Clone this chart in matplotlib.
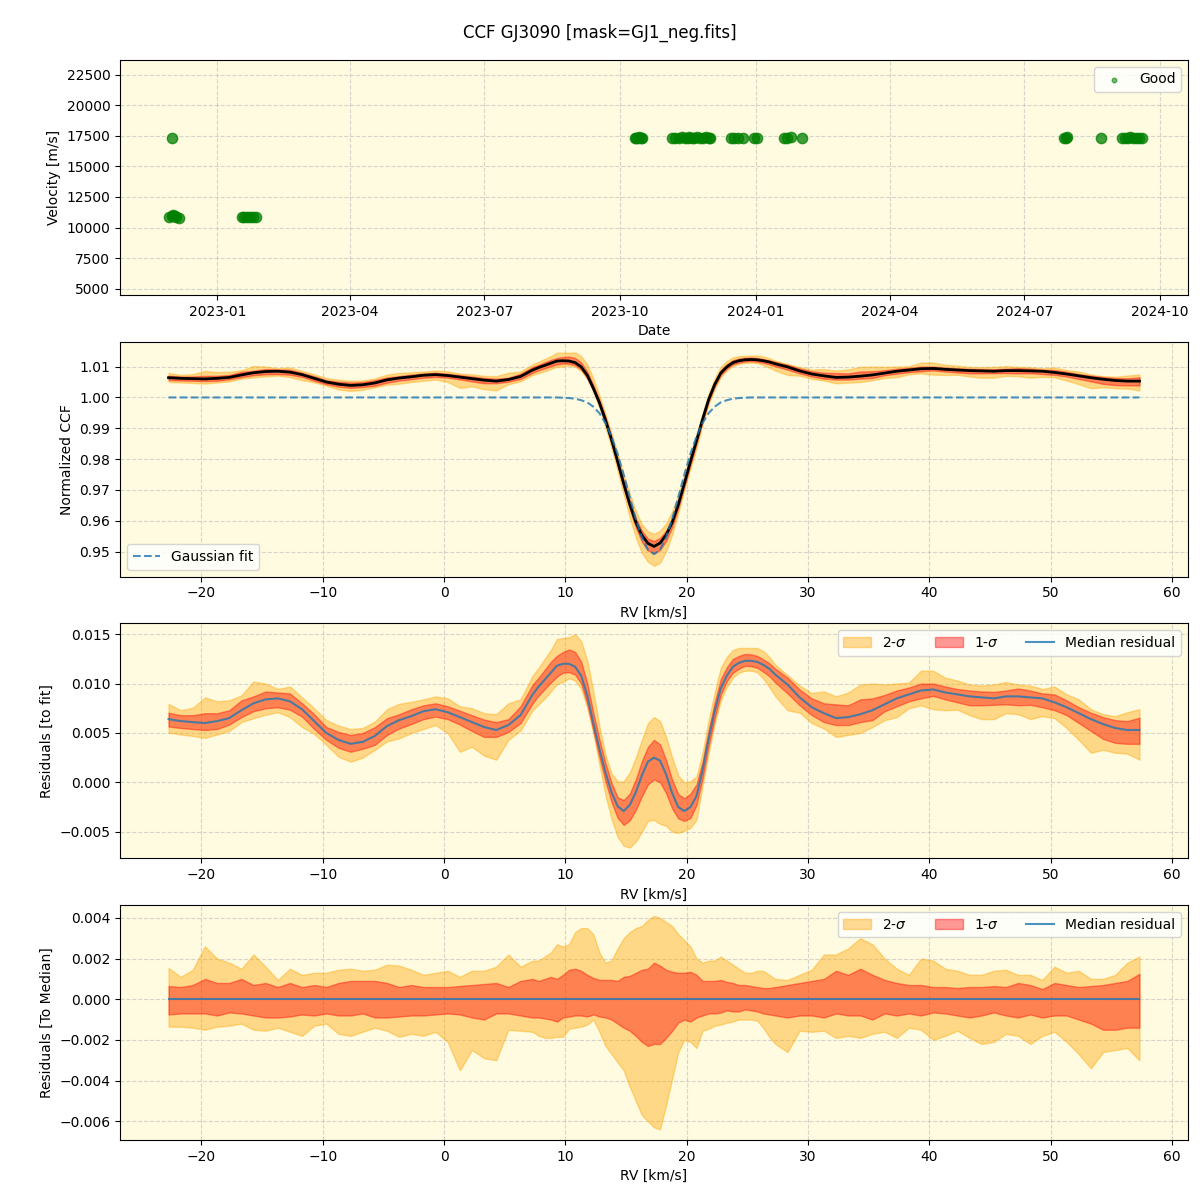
import matplotlib
matplotlib.use("Agg")
import matplotlib.pyplot as plt
import matplotlib.dates as mdates
import numpy as np

# ---- observations (panel 1) ----
obs_dates = ["2022-11-29", "2022-12-01", "2022-12-01", "2022-12-02", "2022-12-03", "2022-12-04", "2022-12-06",
             "2023-01-18", "2023-01-19", "2023-01-21", "2023-01-23", "2023-01-25", "2023-01-27",
             "2023-10-11", "2023-10-12", "2023-10-13", "2023-10-14", "2023-10-15", "2023-10-16",
             "2023-11-05", "2023-11-07", "2023-11-10", "2023-11-12", "2023-11-14", "2023-11-16",
             "2023-11-17", "2023-11-19", "2023-11-20", "2023-11-22", "2023-11-24", "2023-11-26",
             "2023-11-28", "2023-11-30", "2023-12-01",
             "2023-12-15", "2023-12-17", "2023-12-20", "2023-12-23", "2023-12-31", "2024-01-02",
             "2024-01-20", "2024-01-22", "2024-01-25", "2024-02-01",
             "2024-07-28", "2024-07-29", "2024-07-30", "2024-08-22",
             "2024-09-05", "2024-09-07", "2024-09-09", "2024-09-11", "2024-09-13", "2024-09-15",
             "2024-09-17", "2024-09-19"]
obs_vel = [10900, 17350, 10950, 11000, 10950, 10850, 10800,
           10900, 10900, 10900, 10900, 10900, 10880,
           17350, 17300, 17350, 17380, 17320, 17350,
           17350, 17300, 17320, 17380, 17350, 17300,
           17380, 17350, 17300, 17400, 17350, 17320,
           17380, 17350, 17300,
           17350, 17300, 17320, 17300, 17350, 17320,
           17300, 17320, 17380, 17300,
           17350, 17300, 17380, 17300,
           17320, 17350, 17300, 17380, 17320, 17350,
           17300, 17350]

# ---- CCF profiles (panels 2-4) ----
# 1 km/s sampling, 0.5 km/s around the line
rv = np.round(np.concatenate([np.arange(-22.7, 7.31, 1.0),
                              np.arange(7.8, 26.81, 0.5),
                              np.arange(27.3, 57.31, 1.0)]), 1)

gauss_fit = [1.0, 1.0, 1.0, 1.0, 1.0, 1.0, 1.0, 1.0, 1.0, 1.0,
             1.0, 1.0, 1.0, 1.0, 1.0, 1.0, 1.0, 1.0, 1.0, 1.0,
             1.0, 1.0, 1.0, 1.0, 1.0, 1.0, 1.0, 1.0, 1.0, 1.0,
             1.0,
             1.0, 1.0, 1.0, 1.0, 0.9999, 0.9998, 0.9996, 0.9991, 0.9984, 0.9970,
             0.9949, 0.9917, 0.9873, 0.9817, 0.9750, 0.9677, 0.9606, 0.9546, 0.9506, 0.9492,
             0.9506, 0.9546, 0.9606, 0.9677, 0.9750, 0.9817, 0.9873, 0.9917, 0.9949, 0.9970,
             0.9984, 0.9991, 0.9996, 0.9998, 0.9999, 1.0, 1.0, 1.0, 1.0,
             1.0, 1.0, 1.0, 1.0, 1.0, 1.0, 1.0, 1.0, 1.0, 1.0,
             1.0, 1.0, 1.0, 1.0, 1.0, 1.0, 1.0, 1.0, 1.0, 1.0,
             1.0, 1.0, 1.0, 1.0, 1.0, 1.0, 1.0, 1.0, 1.0, 1.0,
             1.0]

res_median = [0.0064, 0.0062, 0.0061, 0.0060, 0.0062, 0.0065, 0.0073, 0.0080, 0.0084, 0.0085,
              0.0082, 0.0074, 0.0062, 0.0050, 0.0043, 0.0039, 0.0041, 0.0047, 0.0057, 0.0063,
              0.0067, 0.0072, 0.0074, 0.0071, 0.0066, 0.0061, 0.0056, 0.0053, 0.0058, 0.0068,
              0.0089,
              0.0097, 0.0104, 0.0111, 0.0118, 0.0120, 0.0120, 0.0117, 0.0108, 0.0088, 0.0060,
              0.0034, 0.0010, -0.0010, -0.0024, -0.0029, -0.0023, -0.0010, 0.0007, 0.0021, 0.0025,
              0.0022, 0.0008, -0.0011, -0.0025, -0.0029, -0.0025, -0.0014, 0.0012, 0.0044, 0.0072,
              0.0095, 0.0108, 0.0117, 0.0121, 0.0123, 0.0123, 0.0122, 0.0119, 0.0115,
              0.0109, 0.0099, 0.0086, 0.0076, 0.0070, 0.0065, 0.0066, 0.0069, 0.0073, 0.0079,
              0.0085, 0.0089, 0.0093, 0.0094, 0.0091, 0.0089, 0.0087, 0.0086, 0.0085, 0.0087,
              0.0087, 0.0086, 0.0085, 0.0081, 0.0076, 0.0070, 0.0064, 0.0059, 0.0055, 0.0053,
              0.0053]

# spread around the median (panel 4)
up2 = [0.00154, 0.0011, 0.00145, 0.0026, 0.0020, 0.0018, 0.0015, 0.0022, 0.0016, 0.00095,
       0.0015, 0.0012, 0.0013, 0.0013, 0.00145, 0.0015, 0.0014, 0.00145, 0.0017, 0.00165,
       0.00145, 0.0012, 0.0013, 0.0014, 0.0011, 0.0014, 0.0014, 0.0016, 0.0022, 0.0016,
       0.0019,
       0.0019, 0.0021, 0.0023, 0.0027, 0.0026, 0.0027, 0.0033, 0.0035, 0.0035, 0.0032,
       0.0023, 0.0018, 0.0019, 0.0025, 0.0030, 0.0033, 0.0035, 0.0036, 0.0039, 0.0041,
       0.0040, 0.0038, 0.0036, 0.0032, 0.0029, 0.0026, 0.0020, 0.0018, 0.0019, 0.0019,
       0.0021, 0.0019, 0.0017, 0.0015, 0.0013, 0.0013, 0.0014, 0.0014, 0.0012,
       0.0010, 0.00095, 0.0012, 0.00145, 0.0022, 0.0022, 0.0025, 0.0030, 0.0027, 0.0020,
       0.0015, 0.0012, 0.0020, 0.0019, 0.0015, 0.0014, 0.0012, 0.0012, 0.0014, 0.00145,
       0.0012, 0.0012, 0.00095, 0.0016, 0.0013, 0.0014, 0.0010, 0.0010, 0.0012, 0.0018,
       0.0021]
up1 = [0.00065, 0.0006, 0.0007, 0.0010, 0.0008, 0.0008, 0.0010, 0.0007, 0.0008, 0.0006,
       0.0008, 0.0006, 0.0007, 0.0006, 0.0008, 0.0009, 0.0009, 0.0009, 0.0008, 0.0006,
       0.0007, 0.0006, 0.0006, 0.0006, 0.00065, 0.0007, 0.00075, 0.0008, 0.0006, 0.0009,
       0.0010,
       0.0009, 0.0010, 0.0011, 0.0010, 0.0012, 0.00145, 0.0015, 0.0014, 0.0012, 0.00105,
       0.00095, 0.00095, 0.00095, 0.0009, 0.0011, 0.00115, 0.0013, 0.00145, 0.0015, 0.0018,
       0.00165, 0.00145, 0.00135, 0.0013, 0.0013, 0.00135, 0.0012, 0.0009, 0.0009, 0.0009,
       0.00095, 0.00085, 0.0008, 0.0007, 0.0007, 0.00065, 0.0006, 0.00055, 0.00055,
       0.0006, 0.0007, 0.0008, 0.0009, 0.0010, 0.0014, 0.0012, 0.0015, 0.0012, 0.00095,
       0.0008, 0.0007, 0.0007, 0.0006, 0.0006, 0.00055, 0.0006, 0.0006, 0.00065, 0.0006,
       0.0008, 0.0007, 0.0005, 0.0008, 0.0007, 0.0006, 0.00065, 0.0007, 0.0008, 0.0009,
       0.00125]
lo1 = [-0.00075, -0.0007, -0.0007, -0.0007, -0.0008, -0.00065, -0.0007, -0.0008, -0.0009, -0.0009,
       -0.00085, -0.00075, -0.0008, -0.0007, -0.0008, -0.0008, -0.0007, -0.0009, -0.0009, -0.00085,
       -0.0008, -0.0008, -0.00075, -0.0007, -0.00075, -0.0009, -0.0010, -0.0007, -0.0007, -0.0008,
       -0.0009,
       -0.0009, -0.00095, -0.0010, -0.0011, -0.0009, -0.00085, -0.0008, -0.0008, -0.00085, -0.00075,
       -0.00085, -0.0009, -0.0010, -0.0012, -0.0014, -0.00155, -0.0018, -0.0021, -0.0023, -0.0022,
       -0.0022, -0.0019, -0.00155, -0.00115, -0.0010, -0.0011, -0.0009, -0.0008, -0.0007, -0.0007,
       -0.00065, -0.00055, -0.0006, -0.0006, -0.0005, -0.00055, -0.0006, -0.0007, -0.00075,
       -0.0008, -0.0009, -0.0008, -0.0008, -0.0009, -0.0007, -0.0008, -0.0008, -0.0010, -0.0007,
       -0.0008, -0.0007, -0.0008, -0.00065, -0.0007, -0.0008, -0.0009, -0.0008, -0.00065, -0.0008,
       -0.0009, -0.00075, -0.0009, -0.0008, -0.0008, -0.0010, -0.0012, -0.0015, -0.0015, -0.0014,
       -0.0014]
lo2 = [-0.00135, -0.00135, -0.0014, -0.0015, -0.00135, -0.0013, -0.0012, -0.0015, -0.00155, -0.0014,
       -0.0016, -0.0018, -0.0013, -0.0012, -0.0017, -0.0018, -0.0016, -0.0014, -0.00155, -0.00185,
       -0.0017, -0.0018, -0.0016, -0.0021, -0.0035, -0.0025, -0.0029, -0.0030, -0.0015, -0.00155,
       -0.0016,
       -0.0018, -0.0019, -0.0019, -0.00185, -0.00185, -0.00145, -0.0014, -0.00135, -0.00125, -0.0010,
       -0.0016, -0.0023, -0.0027, -0.0031, -0.0035, -0.0043, -0.0050, -0.0057, -0.0060, -0.0063,
       -0.0064, -0.0052, -0.0039, -0.0026, -0.0020, -0.0021, -0.0024, -0.00155, -0.00145, -0.0013,
       -0.00125, -0.00115, -0.0011, -0.0010, -0.0010, -0.0010, -0.00105, -0.0014, -0.00185,
       -0.0022, -0.0026, -0.00155, -0.0016, -0.00155, -0.0019, -0.0018, -0.0019, -0.0017, -0.0016,
       -0.0019, -0.0014, -0.0015, -0.0020, -0.0018, -0.00155, -0.0019, -0.0022, -0.0021, -0.0017,
       -0.0018, -0.0022, -0.0018, -0.0016, -0.0021, -0.0027, -0.0034, -0.0026, -0.0025, -0.0024,
       -0.0030]

gauss_fit = np.array(gauss_fit)
res_median = np.array(res_median)
up2, up1, lo1, lo2 = map(np.array, (up2, up1, lo1, lo2))
ccf_median = gauss_fit + res_median

bg = "#fefbe1"
fig, axes = plt.subplots(4, 1, figsize=(12, 12), dpi=100)
fig.subplots_adjust(left=0.1, right=0.99, top=0.95, bottom=0.05, hspace=0.2)
fig.suptitle("CCF GJ3090 [mask=GJ1_neg.fits]", fontsize=12)

for ax in axes:
    ax.set_facecolor(bg)
    ax.grid(True, linestyle="--", alpha=0.5)
    ax.set_axisbelow(True)

# panel 1: velocities
ax = axes[0]
dates = np.array(obs_dates, dtype="datetime64[D]")
ax.scatter(dates, obs_vel, s=55, color="green", alpha=0.75, label="Good")
ax.set_xlim(np.datetime64("2022-10-27"), np.datetime64("2024-10-20"))
ax.set_ylim(4500, 23700)
ax.xaxis.set_major_locator(mdates.MonthLocator(bymonth=[1, 4, 7, 10]))
ax.xaxis.set_major_formatter(mdates.DateFormatter("%Y-%m"))
ax.set_xlabel("Date")
ax.set_ylabel("Velocity [m/s]")
leg = ax.legend(loc="upper right", markerscale=0.45)
for h in leg.legend_handles:
    h.set_alpha(0.55)

# panel 2: CCF
ax = axes[1]
ax.fill_between(rv, ccf_median + lo2, ccf_median + up2, color="orange", alpha=0.4)
ax.fill_between(rv, ccf_median + lo1, ccf_median + up1, color="red", alpha=0.4)
ax.plot(rv, ccf_median, color="black", lw=2)
ax.plot(rv, gauss_fit, "--", color="tab:blue", alpha=0.8, lw=1.5, label="Gaussian fit")
ax.set_xlabel("RV [km/s]")
ax.set_ylabel("Normalized CCF")
ax.legend(loc="lower left")

# panel 3: residuals to fit
ax = axes[2]
ax.fill_between(rv, res_median + lo2, res_median + up2, color="orange", alpha=0.4, label="2-$\\sigma$")
ax.fill_between(rv, res_median + lo1, res_median + up1, color="red", alpha=0.4, label="1-$\\sigma$")
ax.plot(rv, res_median, color="tab:blue", alpha=0.8, label="Median residual")
ax.set_xlabel("RV [km/s]")
ax.set_ylabel("Residuals [to fit]")
ax.legend(loc="upper right", ncol=3)

# panel 4: residuals to median
ax = axes[3]
ax.fill_between(rv, lo2, up2, color="orange", alpha=0.4, label="2-$\\sigma$")
ax.fill_between(rv, lo1, up1, color="red", alpha=0.4, label="1-$\\sigma$")
ax.plot(rv, np.zeros_like(rv), color="tab:blue", alpha=0.8, label="Median residual")
ax.set_xlabel("RV [km/s]")
ax.set_ylabel("Residuals [To Median]")
ax.legend(loc="upper right", ncol=3)

fig.savefig("out.png")
